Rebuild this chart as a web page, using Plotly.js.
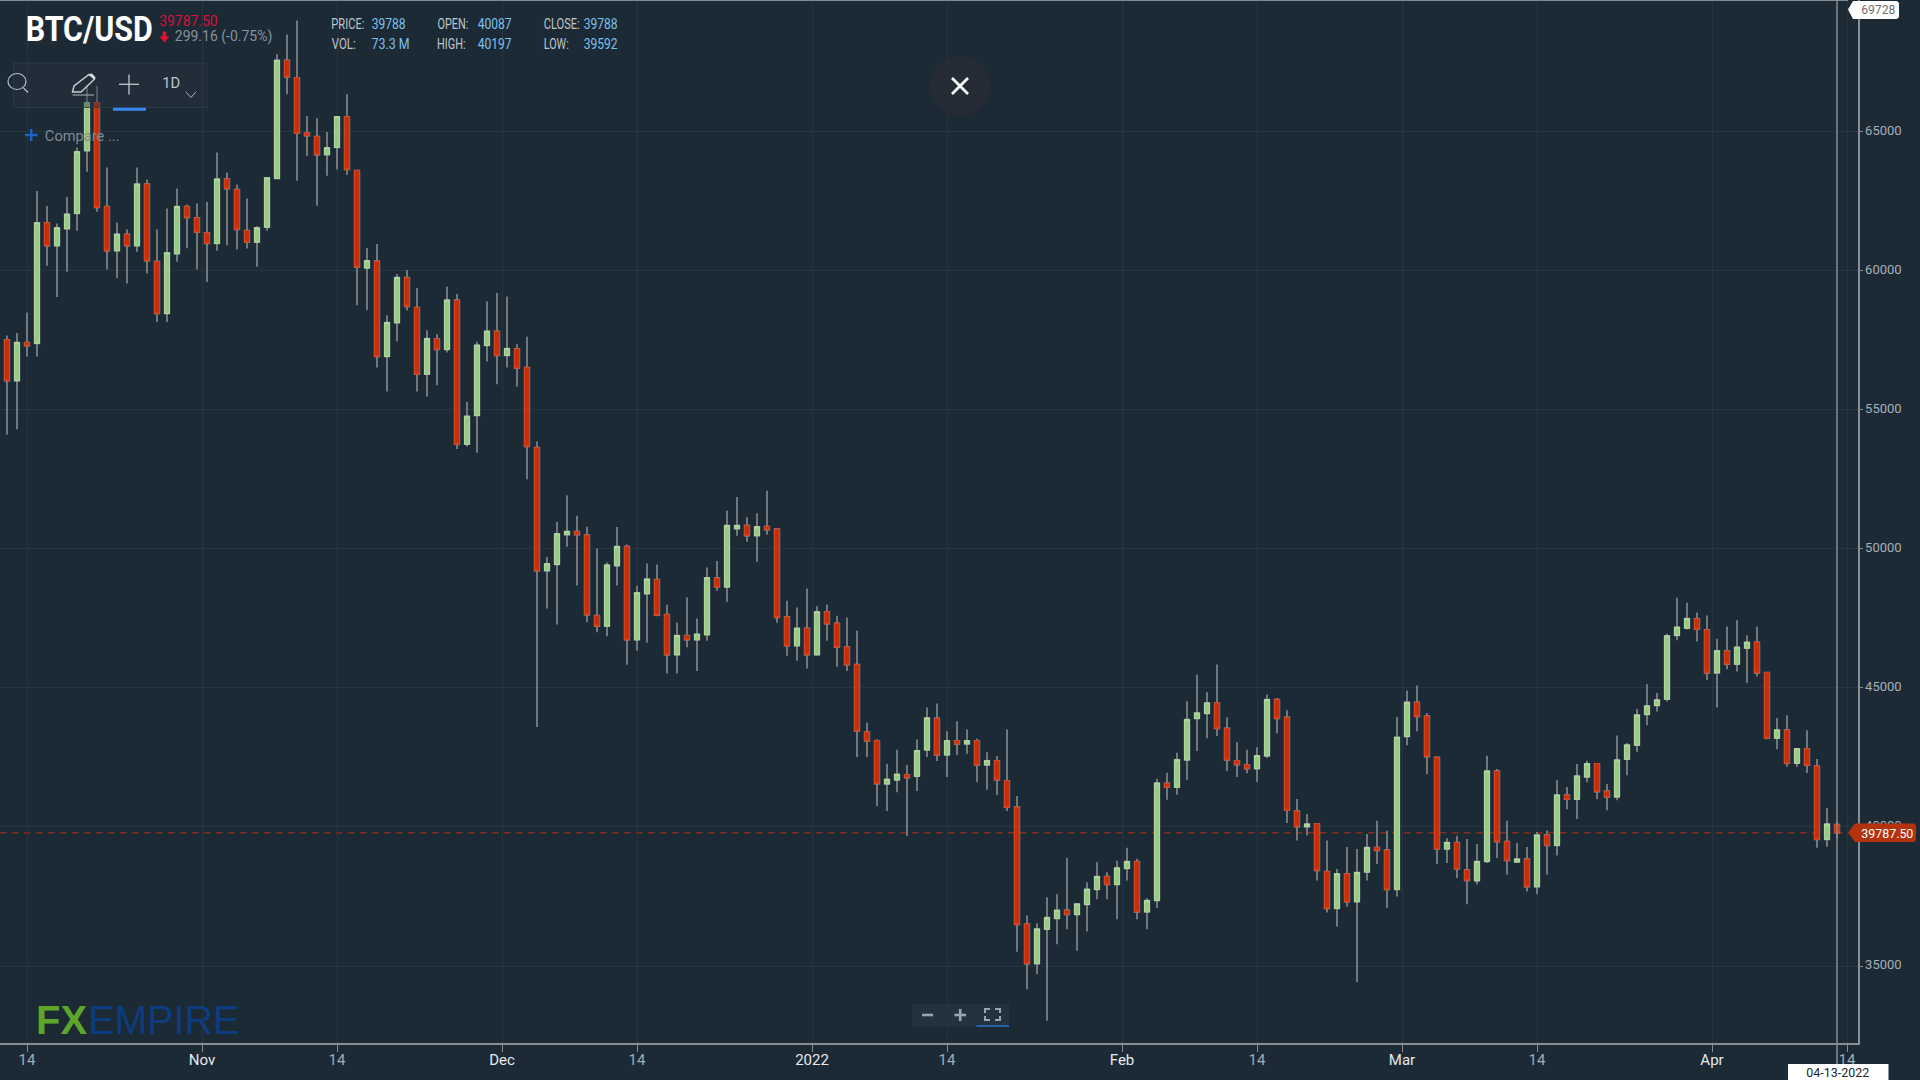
<!DOCTYPE html>
<html>
<head>
<meta charset="utf-8">
<title>BTC/USD</title>
<script src="https://cdn.plot.ly/plotly-3.0.1.min.js"></script>
<style>html,body{margin:0;padding:0;background:#1c2a36;overflow:hidden}#chart{width:1920px;height:1080px}</style>
</head>
<body>
<div id="chart"></div>
<script>
var firstDay = [2021, 9, 12];
var openPrices = [
57520,56044,57424,57388,61724,60896,61508,62060,64316,66044,
62312,60716,61316,60896,63116,60332,58460,60608,62312,61904,
61364,60980,63296,62924,61448,61028,61568,63320,67568,66944,
64964,64832,64172,64436,65540,63608,60096,60348,56916,58128,
59760,58680,56280,57552,57168,58944,53760,54792,57312,57828,
56952,57192,56520,53640,49212,49440,50508,50628,50496,47604,
47220,49392,50088,46728,48384,48900,47640,46188,46884,46728,
46908,48948,48624,50724,50844,50472,50808,50712,47556,46512,
47148,46188,47736,47328,46476,45840,43416,43104,41544,41688,
41880,41820,42768,43908,42588,43104,42984,43104,42228,42384,
41664,40716,36512,35084,36320,36704,37004,36848,37208,37748,
38216,37928,38504,38756,36944,37352,41568,41424,42408,43896,
44076,44460,43548,42384,42240,42096,42552,44580,43944,40572,
40008,40116,38400,37068,38316,37308,38376,39264,39168,37752,
43248,44484,43992,42504,39204,39444,38448,38064,38760,42012,
39480,38736,38844,37848,39708,39336,41148,40992,41796,42276,
41292,41076,42432,42936,44040,44364,44592,46884,47148,47484,
47088,45540,46332,45852,46428,46644,45552,43188,43488,42288,
42816,42192,39552,40087];
var highPrices = [
57676,57760,58496,62864,62324,61700,62648,64436,66620,66644,
63716,61736,61484,63716,63284,61484,62240,62960,62384,62420,
62468,64256,63536,63104,62600,61604,63344,67784,68492,68996,
65564,65480,64988,65540,66344,63608,60816,60960,58404,59880,
60024,59376,57864,57720,59424,59160,55284,57444,58896,59196,
59076,57360,57624,53856,49704,50964,51924,51192,50796,50016,
49512,50784,50160,48672,49476,49440,47988,47352,48252,47496,
49332,49560,51372,51864,51132,51276,52092,50736,48132,47892,
48576,47940,48000,47592,47532,47052,43752,43152,42276,42780,
42228,43140,44292,44436,43440,43800,43500,43176,42684,42552,
43500,41112,36812,36536,37472,37580,38892,37256,38012,38732,
38372,38780,39252,38856,37436,41736,41952,42672,44520,45480,
44844,45840,43932,43044,42780,42864,44760,44640,44196,41004,
40464,40140,39516,38484,39276,39204,39744,40224,39864,43956,
44904,45084,44100,42504,39600,39684,39564,39384,42564,42084,
40224,39420,39276,39816,39876,41676,41436,42264,42384,42300,
41544,43284,43020,44244,45132,44820,46944,48240,48060,47712,
47604,46764,47208,47436,46896,47208,45552,43920,44016,42840,
43476,42444,40680,40197];
var lowPrices = [
54112,54304,56920,56920,60176,59060,59960,61436,63560,62120,
60044,59732,59540,60680,59900,58160,58160,60320,60812,60044,
59600,60716,60920,60764,60800,60140,61436,63320,66344,63236,
64136,62336,63416,63644,63452,58764,58584,56520,55656,57456,
58584,55656,55476,55884,57060,53592,53676,53460,56736,55920,
56520,55836,52500,43596,47856,47280,50076,48684,47364,47004,
46860,48684,45828,46332,46620,47580,45516,45516,46464,45612,
46692,48492,48096,50472,50256,49536,50508,47340,46152,45972,
45696,46188,46692,45756,45612,42516,42516,40740,40572,41244,
39672,41292,42516,42372,41796,42588,42636,41604,41340,41148,
40572,35516,34160,34700,33032,35780,36320,35552,36236,37400,
37400,36680,38072,36680,36320,37088,40980,41160,41700,42732,
43188,43272,42012,41796,41928,41616,42480,43368,40140,39516,
39696,38076,36924,36420,37140,34424,38076,38664,37092,37500,
42936,43440,41892,38664,38700,38160,37224,37932,38700,38880,
38292,38724,37680,37584,38292,38976,40632,40284,41604,40992,
40596,40956,41856,42708,43656,44148,44508,46716,47100,46668,
45276,44292,45672,45588,45180,45408,43152,42792,42168,42168,
41940,39252,39288,39592];
var closePrices = [
56044,57424,57304,61724,60896,61544,62036,64280,66044,62276,
60716,61316,60896,63116,60356,58460,60644,62312,61916,61388,
60980,63296,62948,61484,61028,61544,63344,67568,66968,64940,
64856,64172,64424,65540,63644,60128,60360,56916,58140,59760,
58716,56280,57564,57168,58944,53760,54768,57324,57828,56952,
57204,56496,53676,49212,49464,50544,50628,50508,47628,47220,
49416,50088,46728,48420,48912,47616,46188,46884,46728,46932,
48960,48624,50844,50844,50472,50796,50688,47532,46512,47148,
46188,47736,47304,46464,45828,43452,43092,41556,41712,41892,
41772,42744,43920,42588,43104,42984,43104,42228,42384,41688,
40704,36488,35084,36332,36740,37004,36848,37232,37760,38216,
37928,38528,38756,36944,37352,41580,41424,42420,43860,44100,
44460,43536,42408,42240,42096,42564,44580,43896,40596,40008,
40104,38436,37068,38316,37308,38364,39264,39156,37752,43224,
44484,43968,42528,39204,39444,38484,38076,38760,42012,39468,
38796,38844,37848,39708,39336,41148,40992,41832,42276,41268,
41076,42408,42948,44028,44352,44568,46872,47184,47496,47112,
45540,46332,45852,46464,46644,45540,43188,43488,42288,42816,
42216,39552,40104,39787.5];

var priceTicks = [35000,40000,45000,50000,55000,60000,65000];
var dateTicks = ["2021-10-14","2021-10-31 12:00","2021-11-14","2021-11-30 12:00","2021-12-14","2021-12-31 12:00","2022-01-14","2022-01-31 12:00","2022-02-14","2022-02-28 12:00","2022-03-14","2022-03-31 12:00","2022-04-14"];
var dateLabels = ["14","Nov","14","Dec","14","2022","14","Feb","14","Mar","14","Apr","14"];
var dateMajor = [false,true,false,true,false,true,false,true,false,true,false,true,false];
var lastPrice = 39787.5;
var maxPrice = "69728";

var dates = openPrices.map(function(_, i){
  return new Date(Date.UTC(firstDay[0], firstDay[1], firstDay[2] + i)).toISOString().slice(0,10);
});
var bodyHigh = openPrices.map(function(o,i){ return Math.max(o, closePrices[i]); });
var bodyLow  = openPrices.map(function(o,i){ return Math.min(o, closePrices[i]); });

var W = 1858, H = 1043;
function px(x){ return x / W; }
function py(y){ return 1 - y / H; }

var fitWidths = [];
// Text with its left edge at x, squeezed to the given width once drawn.
function label(text, x, w, y, size, color, family, weight){
  fitWidths.push(w);
  return {text:text, x:px(x + w/2), y:py(y), xref:'paper', yref:'paper', showarrow:false, xanchor:'center', yanchor:'middle',
          borderpad:0, font:{family:family || 'Roboto,sans-serif', size:size, color:color, weight:weight || 400}};
}
function seg(x0,y0,x1,y1,color,w){
  return {type:'line', xref:'paper', yref:'paper', x0:px(x0), y0:py(y0), x1:px(x1), y1:py(y1), layer:'above', line:{color:color, width:w}};
}
function rect(x0,y0,x1,y1,fill,border){
  return {type:'rect', xref:'paper', yref:'paper', x0:px(x0), y0:py(y0), x1:px(x1), y1:py(y1), layer:'above', fillcolor:fill, line:{color:border||'rgba(0,0,0,0)', width:border?1:0}};
}
function ring(cx,cy,rx,ry,fill,border,w){
  return {type:'circle', xref:'paper', yref:'paper', x0:px(cx-rx), y0:py(cy-ry), x1:px(cx+rx), y1:py(cy+ry), layer:'above', fillcolor:fill, line:{color:border||'rgba(0,0,0,0)', width:w||0}};
}
function poly(points, fill, border, w, closed){
  var d = points.map(function(p,i){ return (i? 'L':'M') + px(p[0]) + ',' + py(p[1]); }).join(' ') + (closed===false?'':' Z');
  return {type:'path', xref:'paper', yref:'paper', path:d, layer:'above', fillcolor:fill, line:{color:border||'rgba(0,0,0,0)', width:w||0}};
}

var shapes = [
  {type:'line', xref:'paper', yref:'y', x0:0, x1:px(1848), y0:lastPrice, y1:lastPrice, layer:'below', line:{color:'#b53210', width:1, dash:'6.5px,5.5px'}},
  seg(0,0.5,1848,0.5,'#858c92',1.2),
  seg(1837,0,1837,1064,'#868d93',1.5),
  // toolbar
  rect(13.5,63,207,107.5,'rgba(39,52,64,0.45)','rgba(45,60,72,0.8)'),
  ring(17,81.5,9,8,'rgba(0,0,0,0)','#b4bcc2',1.2),
  seg(23.5,88,28,92.5,'#b4bcc2',1.4),
  poly([[72.5,92],[74,86],[89,74.5],[94.5,79],[81,92]],'rgba(0,0,0,0)','#c6ccd0',1.4),
  poly([[89,74.5],[92,74],[95,77.5],[94.5,79]],'#d8dcdf','#d8dcdf',1),
  seg(72.5,95,94,95,'#9aa2a8',1.2),
  seg(119,84.3,139,84.3,'#c0c6cb',1.3),
  seg(129,74.5,129,94.5,'#c0c6cb',1.3),
  rect(113,107.7,146,110.8,'#3787ee'),
  poly([[185.7,91.7],[191,97.5],[196,91.7]],'rgba(0,0,0,0)','#aab2b8',1,false),
  seg(25,135,37.5,135,'#1f63c4',2.5),
  seg(31.2,129,31.2,141,'#1f63c4',2.5),
  // close button
  ring(960,86,30,30,'#262c36'),
  seg(952,78,968,94,'#ffffff',2.6),
  seg(968,78,952,94,'#ffffff',2.6),
  // zoom controls
  rect(912,1004,1009,1026.5,'#243240'),
  seg(922,1015,933,1015,'#9aa5ad',2.6),
  seg(954.5,1015,966,1015,'#9aa5ad',2.6),
  seg(960.2,1009,960.2,1021,'#9aa5ad',2.6),
  poly([[985,1013],[985,1009],[990,1009]],'rgba(0,0,0,0)','#9aa5ad',2,false),
  poly([[995,1009],[1000,1009],[1000,1013]],'rgba(0,0,0,0)','#9aa5ad',2,false),
  poly([[985,1016],[985,1020],[990,1020]],'rgba(0,0,0,0)','#9aa5ad',2,false),
  poly([[995,1020],[1000,1020],[1000,1016]],'rgba(0,0,0,0)','#9aa5ad',2,false),
  rect(976.5,1025,1009,1027,'#265fa8'),
  // price tags
  poly([[1848,832.5],[1855,823.5],[1914,823.5],[1916,825.5],[1916,840],[1914,842],[1855,842]],'#b5320f'),
  poly([[1848,9.5],[1853,1],[1897,1],[1899,3],[1899,17],[1897,19],[1853,19]],'#ffffff'),
  rect(1788,1064,1888.5,1080,'#ffffff'),
  // down arrow
  poly([[164.5,42.5],[159.7,36.5],[162.8,36.5],[162.8,31.5],[166.2,31.5],[166.2,36.5],[169.3,36.5]],'#e5102f')
];

var INFO = '#bcc6cb', VALUE = '#7cc1ee', LOGO = '"Liberation Sans",Arial,sans-serif';
var annotations = [
  label('BTC/USD',25,127,29.5,35,'#ffffff',null,700),
  label('39787.50',159,58.5,21,14,'#d8103a'),
  label('299.16 (-0.75%)',174.7,97.5,37,14.5,'#85929b'),
  label('PRICE:',331,33,23.5,14,INFO),  label('39788',371,34,23.5,14,VALUE),
  label('VOL:',331,24,44.5,14,INFO),    label('73.3 M',371,38,44.5,14,VALUE),
  label('OPEN:',437.5,31,23.5,14,INFO), label('40087',477.5,34,23.5,14,VALUE),
  label('HIGH:',437.5,28.6,44.5,14,INFO),label('40197',477.5,34,44.5,14,VALUE),
  label('CLOSE:',543.7,36,23.5,14,INFO),label('39788',583.7,34,23.5,14,VALUE),
  label('LOW:',543.7,25,44.5,14,INFO),  label('39592',583.7,34,44.5,14,VALUE),
  label('1D',161.6,18,83.5,15,'#bcc5ca'),
  label('Compare ...',45,74.7,136,14.6,'#7f8b93'),
  label('FX',36.5,51,1020,40,'#5fa52a',LOGO,700),
  label('EMPIRE',87.7,151,1020,40,'#0d3c7f',LOGO),
  label(lastPrice.toFixed(2),1861,52,832.5,13.5,'#ffffff'),
  label(maxPrice,1861.7,34,9.5,13,'#6f6f6f'),
  label('04-13-2022',1806.5,63,1072,13,'#20282e')
];

var common = {type:'candlestick', x:dates, xaxis:'x', yaxis:'y', hoverinfo:'skip', showlegend:false};
var wicks = Object.assign({}, common, {
  name:'wick', open:openPrices, high:highPrices, low:lowPrices, close:closePrices,
  increasing:{line:{color:'#8c9297', width:1.5}, fillcolor:'#8c9297'},
  decreasing:{line:{color:'#8c9297', width:1.5}, fillcolor:'#8c9297'}
});
var bodies = Object.assign({}, common, {
  name:'BTC/USD', open:openPrices, high:bodyHigh, low:bodyLow, close:closePrices,
  increasing:{line:{color:'#b2d9a0', width:1}, fillcolor:'#9ac985'},
  decreasing:{line:{color:'#d9401a', width:1}, fillcolor:'#c62f0c'}
});

var layout = {
  width:1920, height:1080, paper_bgcolor:'#1c2a36', plot_bgcolor:'#1c2a36',
  margin:{l:0, r:62, t:0, b:37, pad:0}, showlegend:false, dragmode:false, hovermode:false,
  font:{family:'Roboto,sans-serif'},
  xaxis:{type:'date', range:['2021-10-11 07:12','2022-04-15 02:24'], rangeslider:{visible:false}, fixedrange:true,
         tickmode:'array', tickvals:dateTicks,
         ticktext:dateLabels.map(function(t,i){ return '<span style="color:' + (dateMajor[i] ? '#e6e9eb' : '#a3abb1') + '">' + t + '</span>'; }),
         ticks:'outside', ticklen:7, tickwidth:1, tickcolor:'#868d93', ticklabelstandoff:-5, showgrid:true, gridcolor:'#253542', gridwidth:1, zeroline:false,
         showline:true, linecolor:'#868d93', linewidth:2, tickfont:{family:'Roboto,sans-serif', size:15, color:'#dfe3e6'}},
  yaxis:{side:'right', range:[32231,69736], fixedrange:true, tickmode:'array', tickvals:priceTicks, ticktext:priceTicks.map(String),
         ticks:'outside', ticklen:3, tickwidth:1, tickcolor:'#868d93', showgrid:true, gridcolor:'#253542', gridwidth:1, zeroline:false,
         showline:true, linecolor:'#868d93', linewidth:1.5, tickfont:{family:'Roboto,sans-serif', size:13, color:'#a8b0b6'}},
  shapes:shapes, annotations:annotations
};
Plotly.newPlot('chart',[wicks,bodies],layout,{displayModeBar:false,staticPlot:true}).then(function(gd){
  fitWidths.forEach(function(w,i){
    var t = gd.querySelector('.annotation[data-index="'+i+'"] .annotation-text');
    if (t) { t.setAttribute('textLength', w); t.setAttribute('lengthAdjust','spacingAndGlyphs'); }
  });
  gd.querySelectorAll('.ytick text').forEach(function(t){ t.setAttribute('dy','-1.2'); });
});
</script>
</body>
</html>
